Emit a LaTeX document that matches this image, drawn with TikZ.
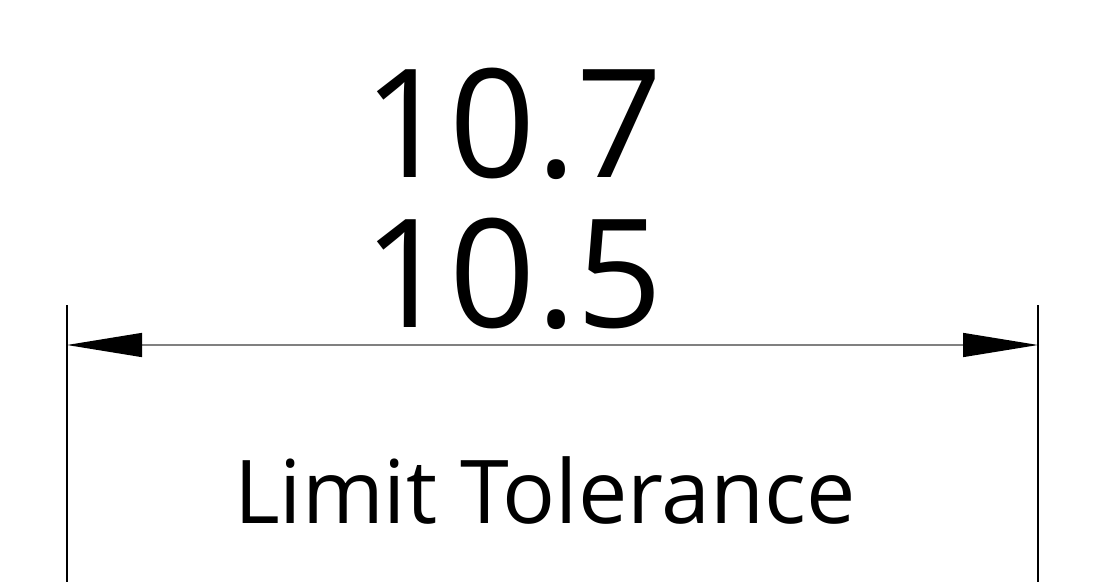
\documentclass[tikz,border=0pt]{standalone}
\usepackage{fontspec}
\setmainfont{Open Sans}
\usepackage{tikz}
\usetikzlibrary{calc,positioning,arrows,arrows.meta}

\begin{document}
\begin{tikzpicture}[x=1pt, y=1pt]
\tikzstyle{big}=[anchor=base, inner sep=0pt, font=\fontsize{151}{151}\selectfont]
\tikzstyle{lbl}=[anchor=base, inner sep=0pt, font=\fontsize{88}{88}\selectfont]
\tikzstyle{ext}=[line width=1.4pt, black]
\tikzstyle{dim}=[line width=1.4pt, black!50, {Triangle[length=75pt, width=24pt, black]}-{Triangle[length=75pt, width=24pt, black]}]
\useasboundingbox (0,0) rectangle (1103,582);
%\draw[help lines] (0,0) grid[step=50] (1103,582);
\coordinate (L) at (67,237);
\coordinate (R) at (1038,237);
\coordinate (Ltop) at (67,277);
\coordinate (Rtop) at (1038,277);
\coordinate (Lbot) at (67,0);
\coordinate (Rbot) at (1038,0);
\node[big] (upper) at (513,404) {10.7};
\node[big] (lower) at (513,255) {10.5};
\node[lbl] (name) at (545,59) {Limit Tolerance};
\draw[ext] (Ltop) -- (Lbot);
\draw[ext] (Rtop) -- (Rbot);
\draw[dim] (L) -- (R);
\end{tikzpicture}
\end{document}
